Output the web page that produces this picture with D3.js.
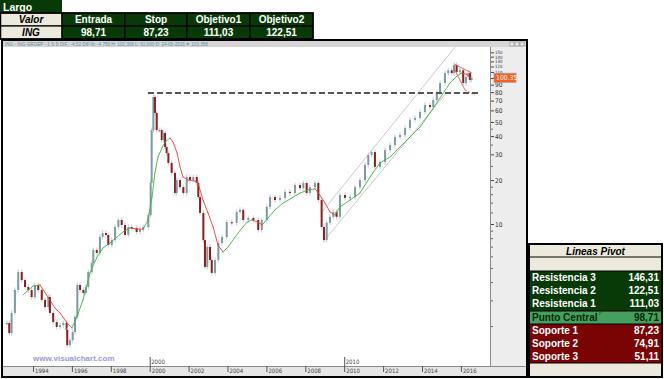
<!DOCTYPE html>
<html><head><meta charset="utf-8">
<script src="https://cdn.jsdelivr.net/npm/d3@7"></script>
<style>body{margin:0;background:#fff;} svg{display:block;font-family:Arial,"Liberation Sans",sans-serif;}</style>
</head><body><svg id="c" width="664" height="379"></svg>
<script>
// ---------- DATA ----------
const priceYears = [1992.66,1992.78,1992.90,1993.07,1993.24,1993.42,1993.59,1993.76,1993.93,1994.10,1994.27,1994.45,1994.62,1994.79,1994.87,1995.04,1995.22,1995.39,1995.56,1995.73,1995.76,1995.90,1996.04,1996.16,1996.28,1996.42,1996.59,1996.72,1996.84,1997.02,1997.10,1997.28,1997.44,1997.58,1997.75,1997.87,1998.05,1998.22,1998.39,1998.56,1998.73,1998.90,1999.07,1999.33,1999.50,1999.67,1999.93,2000.05,2000.10,2000.19,2000.27,2000.36,2000.49,2000.62,2000.70,2000.79,2000.87,2000.96,2001.13,2001.30,2001.39,2001.56,2001.73,2001.90,2002.07,2002.24,2002.42,2002.50,2002.59,2002.76,2002.84,2002.96,2003.10,2003.19,2003.36,2003.53,2003.72,2003.96,2004.22,2004.47,2004.64,2004.81,2005.07,2005.33,2005.58,2005.76,2006.02,2006.19,2006.44,2006.70,2006.96,2007.21,2007.47,2007.73,2007.90,2008.07,2008.24,2008.50,2008.67,2008.84,2008.96,2009.10,2009.27,2009.44,2009.61,2009.78,2010.04,2010.30,2010.56,2010.81,2011.07,2011.24,2011.41,2011.58,2011.84,2012.10,2012.36,2012.61,2012.87,2013.13,2013.38,2013.64,2013.90,2014.15,2014.41,2014.58,2014.76,2014.93,2015.18,2015.35,2015.53,2015.65,2015.78,2015.95,2016.12,2016.26,2016.38,2016.47,2016.55];
const priceClose = [2.10,1.79,2.46,3.53,4.69,4.13,3.70,3.53,3.16,3.82,3.53,3.02,2.70,3.16,2.46,2.13,1.97,2.03,2.10,1.88,1.48,1.60,1.82,2.31,3.82,3.53,3.37,3.70,4.69,5.41,6.64,6.33,8.15,8.68,8.41,7.18,7.77,9.54,10.65,9.84,8.41,9.54,9.39,8.82,9.20,9.54,11.5,19.1,44.0,74.1,57.6,44.0,44.0,37.6,42.0,33.7,30.6,26.2,22.4,16.3,20.0,17.9,16.3,21.0,20.0,21.0,19.1,15.3,11.9,7.77,5.08,6.96,5.67,4.62,5.67,7.41,8.15,10.3,10.2,12.1,12.5,10.65,11.0,10.65,9.10,10.65,13.1,15.3,14.6,15.1,16.6,16.3,18.5,17.6,19.1,16.3,17.9,19.1,14.6,9.54,7.77,10.2,11.2,12.1,11.2,15.8,15.1,15.3,17.9,20.0,25.4,29.7,31.1,24.6,26.6,32.1,34.8,39.4,40.7,45.4,51.6,53.2,58.5,65.3,63.3,70.7,78.9,92.4,108,113,108,122.7,110,113,92.4,101.6,108,96.9,100.35];

const maYears = [1993.49,1994.00,1994.36,1994.77,1995.13,1995.39,1995.75,1996.00,1996.26,1996.57,1996.93,1997.29,1997.60,1997.96,1998.32,1998.63,1998.99,1999.30,1999.66,1999.91,2000.12,2000.27,2000.43,2000.63,2000.79,2001.04,2001.20,2001.41,2001.56,2001.71,2001.97,2002.33,2002.48,2002.74,2003.00,2003.26,2003.51,2003.77,2004.03,2004.39,2004.75,2005.00,2005.26,2005.57,2005.78,2006.09,2006.44,2006.85,2007.32,2007.73,2008.14,2008.50,2008.75,2009.01,2009.27,2009.53,2009.78,2010.30,2010.81,2011.33,2011.84,2012.36,2012.87,2013.38,2013.90,2014.41,2014.93,2015.44,2015.80,2016.01,2016.27,2016.52];
const maValues = [3.27,3.76,3.82,3.16,2.66,2.46,2.10,1.94,2.31,3.02,4.62,5.94,6.85,7.41,8.15,8.82,9.39,9.24,9.20,10.65,15.3,22.4,28.8,33.2,36.4,38.8,36.4,30.6,24.6,21.0,20.0,19.7,19.1,14.6,11.9,9.54,7.18,6.43,6.96,8.15,9.39,10.3,10.65,10.3,9.84,11.0,12.5,13.9,15.1,16.3,17.1,17.4,15.8,13.9,12.1,11.5,13.1,14.6,16.3,21.0,26.2,28.8,33.7,39.4,46.2,57.6,73.0,92.4,103,108,106.5,100];

// trend lines [yearStart, valueStart, yearEnd, valueEnd]
const channelLines = [[2008.86,12.1,2015.70,163],[2008.91,7.53,2015.29,80.2]];
const wedgeLines = [[2015.65,124.7,2016.57,108],[2015.59,120.8,2016.21,82.8]];
const wedgeDashed = [[2016.21,82.8,2016.72,76.5]];
const dashLevel = 78.9, dashFrom = 1999.91, dashTo = 2016.98;
const lastPrice = 100.35;

const yLabelValues = [10,20,30,40,50,60,70,80,90,100];
const yTopLabelValues = [110,120,130,140,150];
const yMinorValues = [2,3,4,5,6,7,8,9,12,14,16,18,25,35,45];
const xTickYears = [1994,1996,1998,2000,2002,2004,2006,2008,2010,2012,2014,2016];
const xMarkYears = [2000,2010];

const topTitle = 'Largo';
const topRowLabel = 'Valor';
const topTicker = 'ING';
const topHeaders = ['Entrada','Stop','Objetivo1','Objetivo2'];
const topValues = ['98,71','87,23','111,03','122,51'];

const pivotTitle = 'Lineas Pivot';
const pivotLabels = ['Resistencia 3','Resistencia 2','Resistencia 1','Punto Central','Soporte 1','Soporte 2','Soporte 3'];
const pivotValues = ['146,31','122,51','111,03','98,71','87,23','74,91','51,11'];

const headerText = 'ING - ING GROEP - 1 S S  DIF.: -4,52  DIF.%: -4,750  H: 102,308  L: 91,000  D: 24-05-2016  #: 100,358';

// ---------- DRAW ----------
const svg = d3.select('#c');
const GREEN = '#083a08', BEIGE = '#eceadc', RED = '#7a0303', MID = '#45a060';
const NARROW = '"Liberation Sans Narrow","DejaVu Sans Condensed",sans-serif';

const x = d3.scaleLinear().domain([1994, 2016]).range([33, 460.9]);
const y = d3.scaleLog().domain([10, 100]).range([224, 78]);

// chart window
svg.append('rect').attr('x',2).attr('y',40).attr('width',525).attr('height',337)
  .attr('fill','#fff').attr('stroke','#000').attr('stroke-width',2);
svg.append('rect').attr('x',3).attr('y',41).attr('width',523).attr('height',6).attr('fill','#d6d6d6');
svg.append('text').attr('x',5).attr('y',46).attr('font-size',4.6).attr('fill','#5f8ea0').text(headerText);
[510,515,520].forEach(bx=>{
  svg.append('rect').attr('x',bx).attr('y',42).attr('width',4).attr('height',4)
    .attr('fill','#e8e8e8').attr('stroke','#777').attr('stroke-width',0.5);
});

svg.append('defs').append('clipPath').attr('id','plot')
  .append('rect').attr('x',3).attr('y',47).attr('width',487).attr('height',319);
const g = svg.append('g').attr('clip-path','url(#plot)');

// channel lines
channelLines.forEach(l=>{
  g.append('line').attr('x1',x(l[0])).attr('y1',y(l[1])).attr('x2',x(l[2])).attr('y2',y(l[3]))
   .attr('stroke','#c4c4c4').attr('stroke-width',0.9);
});

// bars
priceClose.forEach((c,i)=>{
  const o = i>0 ? priceClose[i-1] : c;
  const hi = Math.max(o,c), lo = Math.min(o,c);
  const cx = x(priceYears[i]);
  g.append('line').attr('x1',cx).attr('x2',cx).attr('y1',y(hi)-2.5).attr('y2',y(lo)+2.5)
    .attr('stroke','#c3cdce').attr('stroke-width',1);
  g.append('rect').attr('x',cx-1).attr('width',2)
    .attr('y',y(hi)).attr('height',Math.max(1.2,y(lo)-y(hi)))
    .attr('fill', c>=o ? '#7c9ba3' : '#8c1d1d');
});

// moving average, coloured by direction
for(let i=1;i<maValues.length;i++){
  g.append('line').attr('x1',x(maYears[i-1])).attr('y1',y(maValues[i-1]))
    .attr('x2',x(maYears[i])).attr('y2',y(maValues[i]))
    .attr('stroke', maValues[i] > maValues[i-1] ? '#43b043' : '#f03c3c')
    .attr('stroke-width',0.9).attr('stroke-linecap','round');
}

// wedge
wedgeLines.forEach(l=>{
  g.append('line').attr('x1',x(l[0])).attr('y1',y(l[1])).attr('x2',x(l[2])).attr('y2',y(l[3]))
   .attr('stroke','#e05a5a').attr('stroke-width',0.9);
});
wedgeDashed.forEach(l=>{
  g.append('line').attr('x1',x(l[0])).attr('y1',y(l[1])).attr('x2',x(l[2])).attr('y2',y(l[3]))
   .attr('stroke','#e05a5a').attr('stroke-width',0.9).attr('stroke-dasharray','2,1.5');
});

// dashed level
g.append('line').attr('x1',x(dashFrom)).attr('x2',x(dashTo)).attr('y1',y(dashLevel)).attr('y2',y(dashLevel))
  .attr('stroke','#555').attr('stroke-width',2).attr('stroke-dasharray','6,3');

// watermark
svg.append('text').attr('x',33).attr('y',361).attr('font-size',8).attr('font-weight','bold')
  .attr('fill','#9c9cd6').text('www.visualchart.com');

// right axis
svg.append('rect').attr('x',490).attr('y',47).attr('width',36).attr('height',319).attr('fill','#ededed');
svg.append('line').attr('x1',490.5).attr('x2',490.5).attr('y1',47).attr('y2',366).attr('stroke','#8a8a8a');
const ya = svg.append('g').attr('transform','translate(491,0)')
  .call(d3.axisRight(y).tickValues(yLabelValues).tickSize(3).tickPadding(1).tickFormat(d3.format('d')));
ya.select('.domain').remove();
ya.selectAll('line').attr('stroke','#444');
ya.selectAll('text').attr('font-size',6.5).attr('fill','#333').attr('font-family',NARROW);
const yt = svg.append('g').attr('transform','translate(491,0)')
  .call(d3.axisRight(y).tickValues(yTopLabelValues).tickSize(3).tickPadding(1).tickFormat(d3.format('d')));
yt.select('.domain').remove();
yt.selectAll('line').attr('stroke','#444');
yt.selectAll('text').attr('font-size',4.4).attr('fill','#333').attr('font-family',NARROW);
const ym = svg.append('g').attr('transform','translate(491,0)')
  .call(d3.axisRight(y).tickValues(yMinorValues).tickSize(2).tickFormat(''));
ym.select('.domain').remove();
ym.selectAll('line').attr('stroke','#666');

// price tag (covers the 100 label like the reference)
svg.append('rect').attr('x',494).attr('y',y(lastPrice)-4.5).attr('width',22).attr('height',9)
  .attr('fill','#ff5b1f').attr('stroke','#9a9a9a').attr('stroke-width',0.8);
svg.append('text').attr('x',496).attr('y',y(lastPrice)+2.5).attr('font-size',6.8).attr('fill','#fff')
  .attr('font-family',NARROW).text(d3.format('.2f')(lastPrice));

// bottom axis
svg.append('rect').attr('x',3).attr('y',366).attr('width',523).attr('height',10).attr('fill','#e6e6e6');
svg.append('line').attr('x1',3).attr('x2',526).attr('y1',366.5).attr('y2',366.5).attr('stroke','#8a8a8a');
const xa = svg.append('g').attr('transform','translate(0,366)')
  .call(d3.axisBottom(x).tickValues(xTickYears).tickSize(6).tickFormat(d3.format('d')));
xa.select('.domain').remove();
xa.selectAll('line').attr('stroke','#555');
xa.selectAll('text').attr('text-anchor','start').attr('x',1.5).attr('y',2.5)
  .attr('font-size',6).attr('fill','#444').attr('font-family',NARROW);
xMarkYears.forEach(yr=>{
  svg.append('line').attr('x1',x(yr)+0.5).attr('x2',x(yr)+0.5).attr('y1',357).attr('y2',366).attr('stroke','#555');
  svg.append('text').attr('x',x(yr)+1.5).attr('y',363.5).attr('font-size',6).attr('fill','#444')
    .attr('font-family',NARROW).text(yr);
});

// ---------- top table ----------
const colX = [0,62,125,187,250,313];
const rowY = [0,13,26,39];
const tt = svg.append('g');
tt.append('rect').attr('x',0).attr('y',0).attr('width',62).attr('height',13).attr('fill',GREEN);
tt.append('text').attr('x',3).attr('y',10.5).attr('font-size',10.5).attr('font-weight','bold').attr('fill','#fff').text(topTitle);
for(let r=1;r<=2;r++){
  for(let c=0;c<5;c++){
    const isLab = c===0;
    tt.append('rect').attr('x',colX[c]).attr('y',rowY[r]).attr('width',colX[c+1]-colX[c]).attr('height',13)
      .attr('fill', isLab ? BEIGE : GREEN).attr('stroke','#000').attr('stroke-width',1.2);
    const txt = isLab ? (r===1 ? topRowLabel : topTicker) : (r===1 ? topHeaders[c-1] : topValues[c-1]);
    tt.append('text').attr('x',(colX[c]+colX[c+1])/2).attr('y',rowY[r]+10.3)
      .attr('text-anchor','middle').attr('font-size',10).attr('font-weight','bold')
      .attr('font-style', isLab ? 'italic' : 'normal')
      .attr('fill', isLab ? '#000' : '#fff').text(txt);
  }
}
tt.append('rect').attr('x',0.5).attr('y',13).attr('width',312.5).attr('height',26)
  .attr('fill','none').attr('stroke','#000').attr('stroke-width',1.5);

// ---------- pivot table ----------
const px0 = 529, px1 = 662;
const pt = svg.append('g');
pt.append('rect').attr('x',px0).attr('y',244).attr('width',px1-px0).attr('height',133).attr('fill',BEIGE);
pt.append('text').attr('x',(px0+px1)/2).attr('y',254.5).attr('text-anchor','middle')
  .attr('font-size',10).attr('font-weight','bold').attr('font-style','italic').attr('fill','#000').text(pivotTitle);
const rowTops = [271,284,297,311,324,337,350];
const rowH = [13,13,14,13,13,13,13];
pivotLabels.forEach((lab,i)=>{
  const fill = i<3 ? GREEN : (i===3 ? MID : RED);
  const tcol = i===3 ? '#062a06' : '#fff';
  pt.append('rect').attr('x',px0).attr('y',rowTops[i]).attr('width',px1-px0).attr('height',rowH[i]).attr('fill',fill);
  pt.append('text').attr('x',px0+3).attr('y',rowTops[i]+10).attr('font-size',10).attr('font-weight','bold')
    .attr('fill',tcol).text(lab);
  pt.append('text').attr('x',px1-3).attr('y',rowTops[i]+10).attr('text-anchor','end').attr('font-size',10)
    .attr('font-weight','bold').attr('fill',tcol).text(pivotValues[i]);
});
pt.append('path').attr('d',`M${px0+70},311.5 l4,0 l-4,4 z`).attr('fill','#1f8f2f');
[257,271,311,324,363].forEach(yy=>{
  pt.append('line').attr('x1',px0).attr('x2',px1).attr('y1',yy).attr('y2',yy).attr('stroke','#000').attr('stroke-width',1.2);
});
pt.append('rect').attr('x',px0).attr('y',244).attr('width',px1-px0).attr('height',133)
  .attr('fill','none').attr('stroke','#000').attr('stroke-width',2);
</script></body></html>
